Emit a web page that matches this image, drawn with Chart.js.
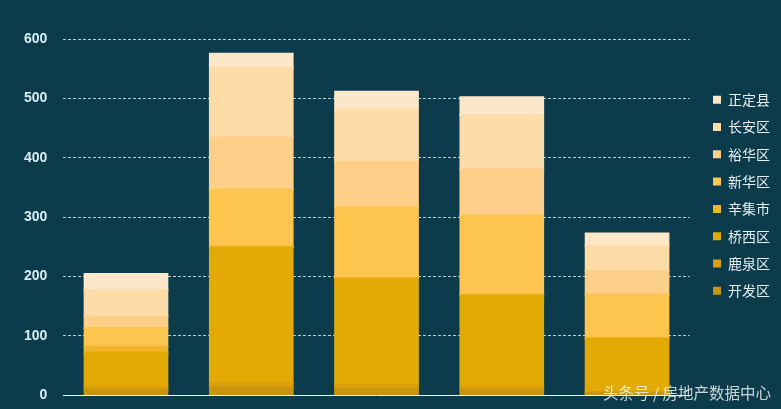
<!DOCTYPE html>
<html lang="zh-CN">
<head>
    <meta charset="UTF-8">
    <title>各区成交量</title>
    <style>
        body {
            margin: 0;
            padding: 0;
            background-color: #0c3b4c;
        }
        #box {
            width: 781px;
            height: 409px;
        }
    </style>
</head>
<body>

<div id="box">
    <canvas id="myChart"></canvas>
</div>

<script src="https://cdn.jsdelivr.net/npm/chart.js"></script>
<script>
    // categorias (sem rótulo visível no eixo x)
    const categorias = ['1', '2', '3', '4', '5'];
    const yTicks = [0, 100, 200, 300, 400, 500, 600];

    // séries, de baixo para cima
    const kaifaqu   = [8, 12, 10, 8, 3];
    const luquanqu  = [6, 8, 7, 6, 2];
    const qiaoxiqu  = [57, 228, 178, 153, 90];
    const xinjishi  = [10, 2, 2, 2, 1];
    const xinhuaqu  = [32, 96, 120, 133, 73];
    const yuhuaqu   = [19, 88, 76, 78, 40];
    const changanqu = [45, 118, 88, 92, 42];
    const zhengding = [27, 23, 30, 30, 21];

    const series = [
        { label: '开发区', data: kaifaqu,   color: '#c9950f' },
        { label: '鹿泉区', data: luquanqu,  color: '#d89f0a' },
        { label: '桥西区', data: qiaoxiqu,  color: '#e3aa06' },
        { label: '辛集市', data: xinjishi,  color: '#f0b52a' },
        { label: '新华区', data: xinhuaqu,  color: '#fdc44e' },
        { label: '裕华区', data: yuhuaqu,   color: '#fecf88' },
        { label: '长安区', data: changanqu, color: '#fddca8' },
        { label: '正定县', data: zhengding, color: '#fce8c8' }
    ];

    // marca d'água
    const marca = {
        id: 'marca',
        afterDraw(chart) {
            const ctx = chart.ctx;
            ctx.save();
            ctx.font = '15.5px "Noto Sans CJK SC"';
            ctx.fillStyle = 'rgba(235,240,240,0.85)';
            ctx.textAlign = 'right';
            ctx.textBaseline = 'middle';
            ctx.fillText('头条号 / 房地产数据中心', 771, 393);
            ctx.restore();
        }
    };

    const ctx = document.getElementById('myChart').getContext('2d');
    new Chart(ctx, {
        type: 'bar',
        data: {
            labels: categorias,
            datasets: series.map(s => ({
                label: s.label,
                data: s.data,
                backgroundColor: s.color,
                borderWidth: 0,
                inflateAmount: 1,
                categoryPercentage: 1,
                barPercentage: 0.66
            }))
        },
        options: {
            responsive: true,
            maintainAspectRatio: false,
            animation: false,
            layout: {
                padding: { left: 22, right: 1, top: 39, bottom: 14 }
            },
            plugins: {
                legend: {
                    position: 'right',
                    align: 'start',
                    reverse: true,
                    title: {
                        display: true,
                        text: '',
                        padding: { top: 26, bottom: 0 }
                    },
                    labels: {
                        color: '#e6f0f0',
                        boxWidth: 8,
                        boxHeight: 8,
                        padding: 13.3,
                        font: { family: '"Noto Sans CJK SC"', size: 14 }
                    }
                },
                tooltip: { enabled: false }
            },
            scales: {
                x: {
                    stacked: true,
                    ticks: { display: false },
                    grid: { display: false, drawTicks: false },
                    border: { display: true, color: '#e8f4f4', width: 1 }
                },
                y: {
                    stacked: true,
                    min: 0,
                    max: 600,
                    afterBuildTicks: axis => {
                        axis.ticks = yTicks.map(v => ({ value: v }));
                    },
                    ticks: {
                        color: '#d8eef0',
                        padding: 2,
                        font: { family: '"Liberation Sans"', size: 14, weight: 'bold' }
                    },
                    grid: {
                        color: 'rgba(235,245,245,0.8)',
                        drawTicks: true,
                        tickLength: 14,
                        tickColor: 'transparent'
                    },
                    border: { display: false, dash: [3, 2] }
                },
                // espaço vazio entre a área do gráfico e a legenda
                gap: {
                    type: 'linear',
                    position: 'right',
                    display: true,
                    ticks: { display: false },
                    grid: { display: false },
                    border: { display: false },
                    afterFit: axis => { axis.width = 10; }
                }
            }
        },
        plugins: [marca]
    });
</script>

</body>
</html>
